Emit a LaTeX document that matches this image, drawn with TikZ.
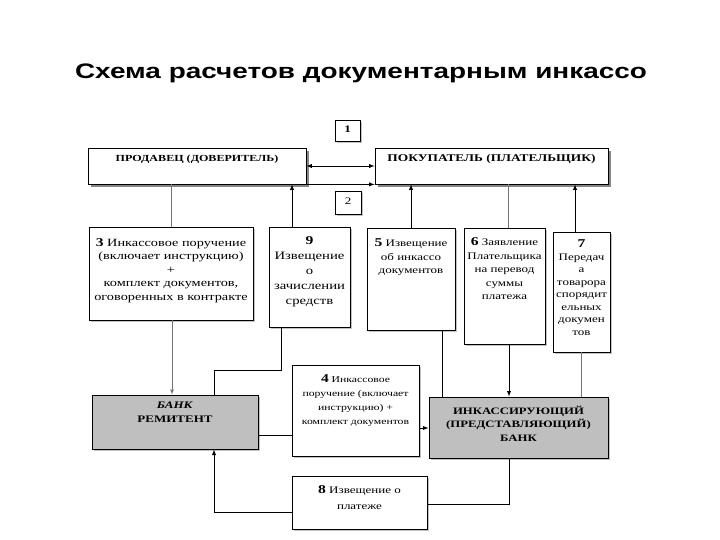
\documentclass[tikz,border=0pt]{standalone}
\usepackage{fontspec}
\setmainfont{Liberation Serif}[FakeStretch=1.3]
\setsansfont{Liberation Sans}[FakeStretch=1.33]
\usetikzlibrary{shadows}

% box text: height, width, top gap, lines
\newcommand{\cell}[4]{\parbox[c][#1pt][t]{#2pt}{\centering\vspace*{#3pt}#4\par}}
\newcommand{\num}[1]{{\fontsize{12}{12}\selectfont\bfseries #1}}

\begin{document}
\begin{tikzpicture}[x=1pt,y=-1pt,
  frame/.style={draw,fill=white,inner sep=0pt,font=\fontsize{10}{13.5}\selectfont},
  box/.style={frame,drop shadow={shadow xshift=2pt,shadow yshift=-2pt,fill=black!40,opacity=0.6}},
  party/.style={frame,line width=0.8pt,font=\bfseries,
    drop shadow={shadow xshift=3pt,shadow yshift=-3pt,fill=black!60,opacity=0.8}},
  bank/.style={frame,fill=black!25,line width=1pt,
    drop shadow={shadow xshift=2pt,shadow yshift=-2pt,fill=black!40,opacity=0.6}},
  link/.style={draw=black!55,line width=0.7pt},
  conn/.style={draw=black,line width=0.9pt},
  arr/.style={conn,-latex}]
\useasboundingbox (0,0) rectangle (720,540);

\node (title) at (361,73) {\sffamily\bfseries\fontsize{21}{21}\selectfont Схема расчетов документарным инкассо};

% top row
\node[party] (seller) at (197,166) {\cell{36}{218}{7}{\fontsize{9.3}{12}\selectfont\bfseries ПРОДАВЕЦ (ДОВЕРИТЕЛЬ)}};
\node[party] (buyer) at (491.5,166) {\cell{36}{233}{6}{\fontsize{10.3}{12}\selectfont\bfseries ПОКУПАТЕЛЬ (ПЛАТЕЛЬЩИК)}};
\node[box] (n1) at (347.5,130.5) {\cell{21}{25}{6}{\textbf{1}}};
\node[box] (n2) at (348,202.5) {\cell{23}{26}{7}{2}};

% documents
\node[box] (b3) at (171,273.5) {\cell{93}{164}{11.5}{\fontsize{11}{13.5}\selectfont\num{3} Инкассовое поручение\\(включает инструкцию)\\+\\комплект документов,\\оговоренных в контракте}};
\node[box] (b9) at (309.5,277) {\cell{100}{81}{10}{\fontsize{11.3}{15}\selectfont\num{9}\\Извещение\\о\\зачислении\\средств}};
\node[box] (b5) at (411,279) {\cell{102}{88}{11}{\num{5} Извещение\\об инкассо\\документов}};
\node[box] (b6) at (504.5,286) {\cell{116}{81}{10}{\num{6} Заявление\\Плательщика\\на перевод\\суммы\\платежа}};
\node[box] (b7) at (581.5,292) {\cell{120}{57}{8}{\fontsize{10}{12.5}\selectfont\num{7}\\Передач\\а\\товарора\\спорядит\\ельных\\докумен\\тов}};

% banks
\node[bank] (remitent) at (175,422) {\cell{54}{166}{7}{\fontsize{10}{14}\selectfont\bfseries\textit{БАНК}\\РЕМИТЕНТ}};
\node[box] (b4) at (355.5,410.5) {\cell{91}{127}{10}{\fontsize{9}{14}\selectfont\num{4} Инкассовое\\поручение (включает\\инструкцию) +\\комплект документов}};
\node[bank] (inkasso) at (518.5,427.5) {\cell{61}{179}{9}{\fontsize{9.8}{13.5}\selectfont\bfseries ИНКАССИРУЮЩИЙ\\(ПРЕДСТАВЛЯЮЩИЙ)\\БАНК}};
\node[box] (b8) at (359.5,502.5) {\cell{53}{135}{10}{\fontsize{10}{16}\selectfont\num{8} Извещение о\\платеже}};

% links
\draw[arr,latex-latex] (seller.east) -- (buyer.west);
\draw[arr] (seller.south east) -- (buyer.south west);
\draw[link] (seller.south -| 171,0) -- (b3.north);
\draw[arr] (b9.north -| 292,0) -- (seller.south -| 292,0);
\draw[arr] (b5.north) -- (b5.north |- buyer.south);
\draw[link] (buyer.south -| 508,0) -- (b6.north -| 508,0);
\draw[arr] (b7.north -| 575,0) -- (buyer.south -| 575,0);
\draw[link,-latex] (b3.south -| 172,0) -- (remitent.north -| 172,0);
\draw[conn] (remitent.north -| 214,0) |- (281,370) -- (b9.south -| 281,0);
\draw[conn] (remitent.east |- 0,435) -- (b4.west |- 0,435);
\draw[arr] (b4.east |- 0,428) -- (inkasso.west |- 0,428);
\draw[conn] (inkasso.north -| 442,0) -- (b5.south -| 442,0);
\draw[arr] (b6.south -| 509,0) -- (inkasso.north -| 509,0);
\draw[link] (inkasso.north -| 581,0) -- (b7.south -| 581,0);
\draw[conn] (inkasso.south -| 509,0) |- (b8.east |- 0,504);
\draw[arr] (b8.west |- 0,512) -| (remitent.south -| 214,0);
\end{tikzpicture}
\end{document}
